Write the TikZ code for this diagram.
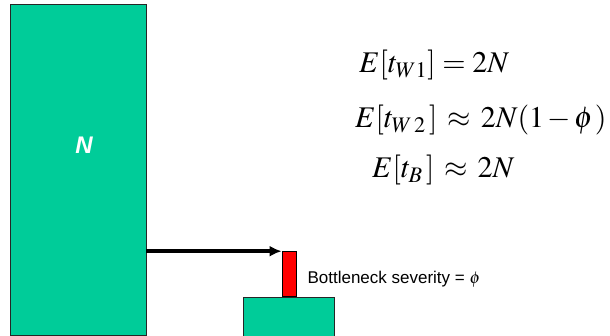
\documentclass[tikz,border=0pt]{standalone}
\usepackage{mathptmx}
\usepackage{fontspec}
\setmainfont{Liberation Sans}
\usetikzlibrary{positioning,arrows.meta}
\definecolor{tealgreen}{RGB}{0,204,153}
\tikzset{
  block/.style={draw=black!85, fill=tealgreen, line width=0.8pt, inner sep=0pt},
  eqn/.style={anchor=base west, inner sep=0pt, font=\fontsize{30}{35}\selectfont},
}
\begin{document}
\begin{tikzpicture}[x=1pt,y=-1pt]
        \useasboundingbox (0,0) rectangle (610,336);
        % the queue, the bottleneck and the server after it
        \node[block, minimum width=136pt, minimum height=331pt] (queue) at (78,170) {};
        \node[font=\fontsize{24}{28}\selectfont\bfseries\itshape, text=white] (n) at (84,145) {N};
        \node[block, minimum width=91pt, minimum height=39pt] (server) at (288.5,316.5) {};
        \node[draw=black, fill=red, line width=0.8pt, inner sep=0pt, minimum width=14pt, minimum height=45pt,
              anchor=south] (neck) at (289,297) {};
        \coordinate (from) at (queue.east |- neck.north);
        \draw[-{Latex[length=12pt,width=11pt]}, line width=3.4pt] (from) -- (neck.north west);
        \node[anchor=west, font=\fontsize{17}{20}\selectfont] (sev) at (304,279) {Bottleneck severity = $\phi$};
        % expected times
        \node[eqn] (w1) at (359,73) {$E[t_{W1}] = 2N$};
        \node[eqn] (w2) at (355,128) {$E[t_{W\,2}\,]\,\approx\,2N(1\mkern2mu{-}\mkern2mu\phi\mkern1mu)$};
        \node[eqn] (b) at (372,178) {$E[t_{B}\,]\,\approx\,2N$};
\end{tikzpicture}
\end{document}
